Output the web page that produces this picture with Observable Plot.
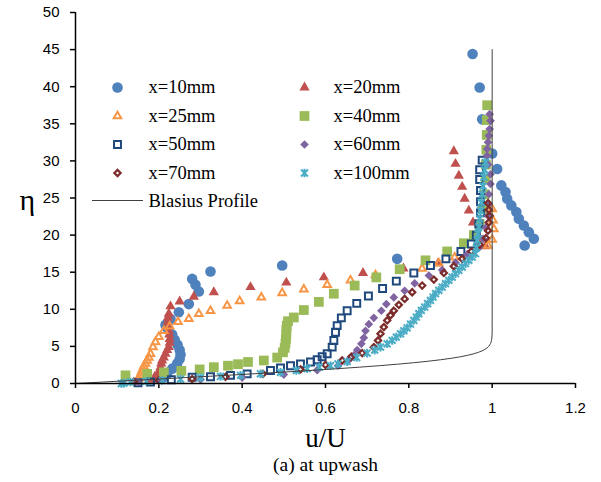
<!DOCTYPE html>
<html><head><meta charset="utf-8">
<script src="https://cdn.jsdelivr.net/npm/d3@7"></script>
<script src="https://cdn.jsdelivr.net/npm/@observablehq/plot@0.6"></script>
<style>
html,body{margin:0;padding:0;background:#fff;}
</style></head><body><div id="chart"></div>
<script>
// ---------- data ----------
const xTicks = [0, 0.2, 0.4, 0.6, 0.8, 1, 1.2];
const yTicks = [0, 5, 10, 15, 20, 25, 30, 35, 40, 45, 50];
const seriesNames = ["x=10mm", "x=20mm", "x=25mm", "x=40mm", "x=50mm", "x=60mm", "x=70mm", "x=100mm"];
const blasiusName = "Blasius Profile";

const u10 = [0.21,0.22,0.232,0.244,0.25,0.252,0.25,0.245,0.238,0.232,0.222,0.216,0.228,0.248,0.272,0.296,0.288,0.28,0.324,0.496,0.772,1.078,1.1,1.088,1.076,1.064,1.058,1.046,1.036,1.032,1.022,1.012,1.0,0.976,0.97,0.953];
const eta10 = [0.8,1.3,2.0,2.7,3.3,3.9,4.5,5.2,5.9,6.6,7.3,7.9,8.7,9.6,10.7,12.4,13.3,14.1,15.1,15.9,16.8,18.6,19.5,20.4,21.3,22.2,23.1,24.0,24.9,25.8,26.7,28.9,31.0,35.6,39.9,44.4];

const u20 = [0.18,0.19,0.2,0.202,0.204,0.206,0.208,0.212,0.216,0.22,0.224,0.226,0.226,0.225,0.224,0.222,0.221,0.222,0.224,0.228,0.25,0.284,0.332,0.42,0.506,0.596,0.69,0.787,0.87,0.94,0.984,0.964,0.954,0.944,0.934,0.928,0.92,0.912,0.908];
const eta20 = [0.5,0.9,1.3,1.8,2.2,2.7,3.1,3.5,4.0,4.5,4.9,5.5,6.0,6.6,7.1,7.7,8.3,8.9,9.4,10.4,11.05,11.7,12.3,13.0,13.6,14.3,14.9,15.5,16.2,17.2,18.5,20.2,21.7,23.3,24.9,26.5,28.0,29.6,31.3];

const u25 = [0.15,0.152,0.155,0.158,0.161,0.164,0.168,0.172,0.176,0.18,0.186,0.192,0.2,0.212,0.226,0.246,0.272,0.296,0.324,0.364,0.394,0.446,0.496,0.548,0.604,0.66,0.72,0.832,0.872,0.91,0.99,1.0,1.004,1.002,1.0];
const eta25 = [0.3,0.7,1.1,1.5,1.9,2.3,2.7,3.1,3.5,4.0,4.9,5.6,6.3,7.1,7.7,8.3,8.7,9.4,9.8,10.5,11.1,11.6,12.2,12.7,13.3,13.9,14.6,15.5,16.2,17.0,18.6,19.4,20.8,22.0,23.5];

const u40 = [0.12,0.172,0.212,0.254,0.298,0.332,0.366,0.39,0.414,0.452,0.484,0.498,0.502,0.504,0.505,0.506,0.506,0.507,0.51,0.524,0.548,0.584,0.62,0.67,0.722,0.778,0.84,0.892,0.932,0.956,0.97,0.978,0.982,0.984,0.985,0.986,0.987,0.987,0.988];
const eta40 = [1.1,1.3,1.5,1.7,1.9,2.2,2.4,2.6,2.9,3.1,3.5,4.2,4.8,5.4,6.0,6.6,7.2,7.8,8.4,8.9,9.9,11.0,12.1,13.2,14.3,15.4,16.6,17.8,18.9,20.0,21.5,23.5,25.5,27.5,29.5,31.5,33.5,35.5,37.5];

const u50 = [0.15,0.18,0.23,0.28,0.324,0.372,0.412,0.468,0.492,0.516,0.54,0.564,0.58,0.592,0.604,0.616,0.62,0.624,0.628,0.638,0.652,0.675,0.703,0.737,0.77,0.812,0.852,0.889,0.925,0.95,0.962,0.968,0.972,0.972,0.972,0.97,0.97,0.976];
const eta50 = [0.1,0.2,0.5,0.85,0.9,1.1,1.3,1.75,2.1,2.4,2.65,2.9,3.2,3.6,4.0,4.9,5.8,6.9,7.8,8.85,9.8,10.8,11.8,12.8,13.8,14.9,15.9,16.8,17.8,18.8,20.0,21.5,23.0,24.5,26.0,27.5,28.8,30.1];

const u60 = [0.15,0.2,0.3,0.4,0.5,0.58,0.63,0.655,0.668,0.676,0.686,0.692,0.696,0.704,0.716,0.734,0.746,0.764,0.79,0.814,0.848,0.88,0.912,0.94,0.968,0.978,0.985,0.99,0.992,0.992,0.996,0.996,0.99,0.988,0.988,0.99,0.992,0.994,0.996,0.994];
const eta60 = [0.2,0.35,0.55,0.8,1.2,1.8,2.4,3.1,3.8,4.5,5.35,6.15,7.1,8.0,8.85,9.8,10.7,11.6,12.5,13.5,14.55,15.3,16.3,17.4,18.3,19.5,21.0,22.6,24.2,25.5,26.9,28.2,29.5,30.7,31.6,32.5,33.4,34.3,35.4,36.3];

const u70 = [0.14,0.2,0.28,0.36,0.45,0.54,0.6,0.64,0.662,0.688,0.716,0.726,0.732,0.74,0.748,0.756,0.764,0.776,0.79,0.808,0.832,0.86,0.884,0.908,0.928,0.95,0.97,0.985,0.99,0.992,0.994,0.992,0.99];
const eta70 = [0.25,0.4,0.6,0.9,1.3,1.9,2.5,3.1,3.6,4.1,4.9,5.8,6.7,7.6,8.5,9.2,9.8,10.6,11.4,12.3,13.2,14.0,14.9,15.8,16.8,17.8,18.7,19.6,20.6,21.7,22.6,23.4,24.3];

const u100 = [0.11,0.116,0.132,0.17,0.208,0.252,0.3,0.348,0.396,0.444,0.492,0.53,0.556,0.585,0.612,0.63,0.652,0.675,0.7,0.718,0.732,0.748,0.76,0.77,0.78,0.788,0.796,0.804,0.812,0.818,0.824,0.83,0.838,0.845,0.852,0.858,0.864,0.872,0.88,0.888,0.896,0.904,0.912,0.92,0.928,0.936,0.944,0.952,0.96,0.962,0.964,0.966,0.968,0.97,0.972,0.974,0.976,0.978,0.98,0.982,0.984];
const eta100 = [0.0,0.05,0.2,0.3,0.4,0.6,0.8,0.95,1.1,1.3,1.5,1.75,2.0,2.2,2.4,2.65,2.95,3.5,4.1,4.5,4.9,5.35,5.8,6.25,6.7,7.1,7.5,8.0,8.5,8.95,9.4,9.85,10.3,10.75,11.2,11.65,12.1,12.55,13.0,13.45,13.9,14.35,14.8,15.25,15.7,16.15,16.6,17.05,17.5,18.3,19.3,20.2,21.1,22.2,23.3,24.4,25.5,26.6,27.8,28.8,29.8];

const blasiusEta = [0,0.2,0.4,0.6,0.8,1.0,1.2,1.4,1.6,1.8,2.0,2.2,2.4,2.6,2.8,3.0,3.2,3.4,3.6,3.8,4.0,4.2,4.4,4.6,4.8,5.0,5.2,5.4,5.6,5.8,6.0,6.4,6.8,7.2,8.0,45];
const blasiusU = [0,0.06641,0.13277,0.19894,0.26471,0.32979,0.39378,0.45627,0.51676,0.57477,0.62977,0.68132,0.72899,0.77246,0.81152,0.84605,0.87609,0.90177,0.92333,0.94112,0.95552,0.96696,0.97587,0.98269,0.98779,0.99155,0.99425,0.99616,0.99748,0.99838,0.99898,0.99961,0.99987,0.99996,1.0,1.0];

const seriesU = [u10, u20, u25, u40, u50, u60, u70, u100];
const seriesEta = [eta10, eta20, eta25, eta40, eta50, eta60, eta70, eta100];

// ---------- styles ----------
const star = {
  draw(context, size) {
    const s = Math.sqrt(size / Math.PI);
    const d = s * 0.8;
    context.moveTo(-d, -d); context.lineTo(d, d);
    context.moveTo(-d, d); context.lineTo(d, -d);
    context.moveTo(0, -s); context.lineTo(0, s);
  }
};
const markerStyles = [
  {symbol: "circle",   r: 5.3, fill: "#4F81BD", stroke: "none"},
  {symbol: "triangle", r: 3.8, fill: "#C0504D", stroke: "none"},
  {symbol: "triangle", r: 2.8, fill: "none", stroke: "#F79646", strokeWidth: 2},
  {symbol: "square",   r: 5.5, fill: "#9BBB59", stroke: "none"},
  {symbol: "square",   r: 3.9, fill: "none", stroke: "#1F497D", strokeWidth: 2},
  {symbol: "diamond2", r: 3.9, fill: "#8064A2", stroke: "none"},
  {symbol: "diamond2", r: 2.8, fill: "none", stroke: "#7B2C2A", strokeWidth: 2.2},
  {symbol: star,       r: 4.3, fill: "none", stroke: "#4BACC6", strokeWidth: 2}
];
const M = {left: 75, right: 26, top: 12, bottom: 99};
// legend layout (offsets from top-left of frame)
const legendMarkerDx = [42, 229, 42, 229, 42, 229, 42, 229];
const legendTextDx = [73, 258, 73, 258, 73, 258, 73, 258];
const legendRowDy = [75, 75, 103.5, 103.5, 132, 132, 160.5, 160.5];
const blasiusLegend = {x1: 17, x2: 68, dy: 188.5, textDx: 73};
const serif = "'Liberation Serif', 'Times New Roman', serif";

// ---------- marks ----------
const marks = [];
marks.push(Plot.axisX({ticks: xTicks, tickSize: 5, tickPadding: 14, tickFormat: d => String(d), label: null, fontSize: 15, stroke: "#000", strokeWidth: 1.5}));
marks.push(Plot.axisY({ticks: yTicks, tickSize: 5, tickPadding: 11, label: null, fontSize: 15, stroke: "#000", strokeWidth: 1.5}));

seriesU.forEach((us, k) => {
  const data = us.map((v, i) => ({u: v, eta: seriesEta[k][i]}));
  marks.push(Plot.dot(data, {x: "u", y: "eta", ...markerStyles[k]}));
});

const blasius = blasiusU.map((v, i) => ({u: v, eta: blasiusEta[i]}));
marks.push(Plot.line(blasius, {x: "u", y: "eta", stroke: "#404040", strokeWidth: 1}));

marks.push(Plot.ruleY([0], {stroke: "#000", strokeWidth: 1.5}));
marks.push(Plot.ruleX([0], {stroke: "#000", strokeWidth: 1.5}));

// legend
seriesNames.forEach((name, k) => {
  marks.push(Plot.dot([name], {frameAnchor: "top-left", dx: legendMarkerDx[k], dy: legendRowDy[k], ...markerStyles[k]}));
  marks.push(Plot.text([name], {frameAnchor: "top-left", dx: legendTextDx[k], dy: legendRowDy[k], textAnchor: "start", lineAnchor: "middle", fontFamily: serif, fontSize: 18.5, fill: "#000"}));
});
marks.push((index, scales, values, dims) => {
  const line = d3.create("svg:line")
    .attr("x1", dims.marginLeft + blasiusLegend.x1)
    .attr("x2", dims.marginLeft + blasiusLegend.x2)
    .attr("y1", dims.marginTop + blasiusLegend.dy)
    .attr("y2", dims.marginTop + blasiusLegend.dy)
    .attr("stroke", "#404040").attr("stroke-width", 1);
  return line.node();
});
marks.push(Plot.text([blasiusName], {frameAnchor: "top-left", dx: blasiusLegend.textDx, dy: blasiusLegend.dy, textAnchor: "start", lineAnchor: "middle", fontFamily: serif, fontSize: 18.5, fill: "#000"}));

// axis titles and caption
marks.push(Plot.text(["η"], {frameAnchor: "left", dx: -56, dy: 2, lineAnchor: "middle", fontFamily: serif, fontSize: 30, fill: "#000"}));
marks.push(Plot.text(["u/U"], {frameAnchor: "bottom", dy: 55, lineAnchor: "middle", fontFamily: serif, fontSize: 27, fill: "#000"}));
marks.push(Plot.text(["(a) at upwash"], {frameAnchor: "bottom", dy: 81, lineAnchor: "middle", fontFamily: serif, fontSize: 19.5, fill: "#000"}));

const chart = Plot.plot({
  width: 601, height: 482,
  marginLeft: M.left, marginRight: M.right, marginTop: M.top, marginBottom: M.bottom,
  x: {domain: [0, 1.2]},
  y: {domain: [0, 50]},
  style: {fontFamily: "'Liberation Sans', Arial, sans-serif", fontSize: "15px", background: "#fff", color: "#000", overflow: "visible"},
  marks
});
document.getElementById("chart").appendChild(chart);
</script>
</body></html>
